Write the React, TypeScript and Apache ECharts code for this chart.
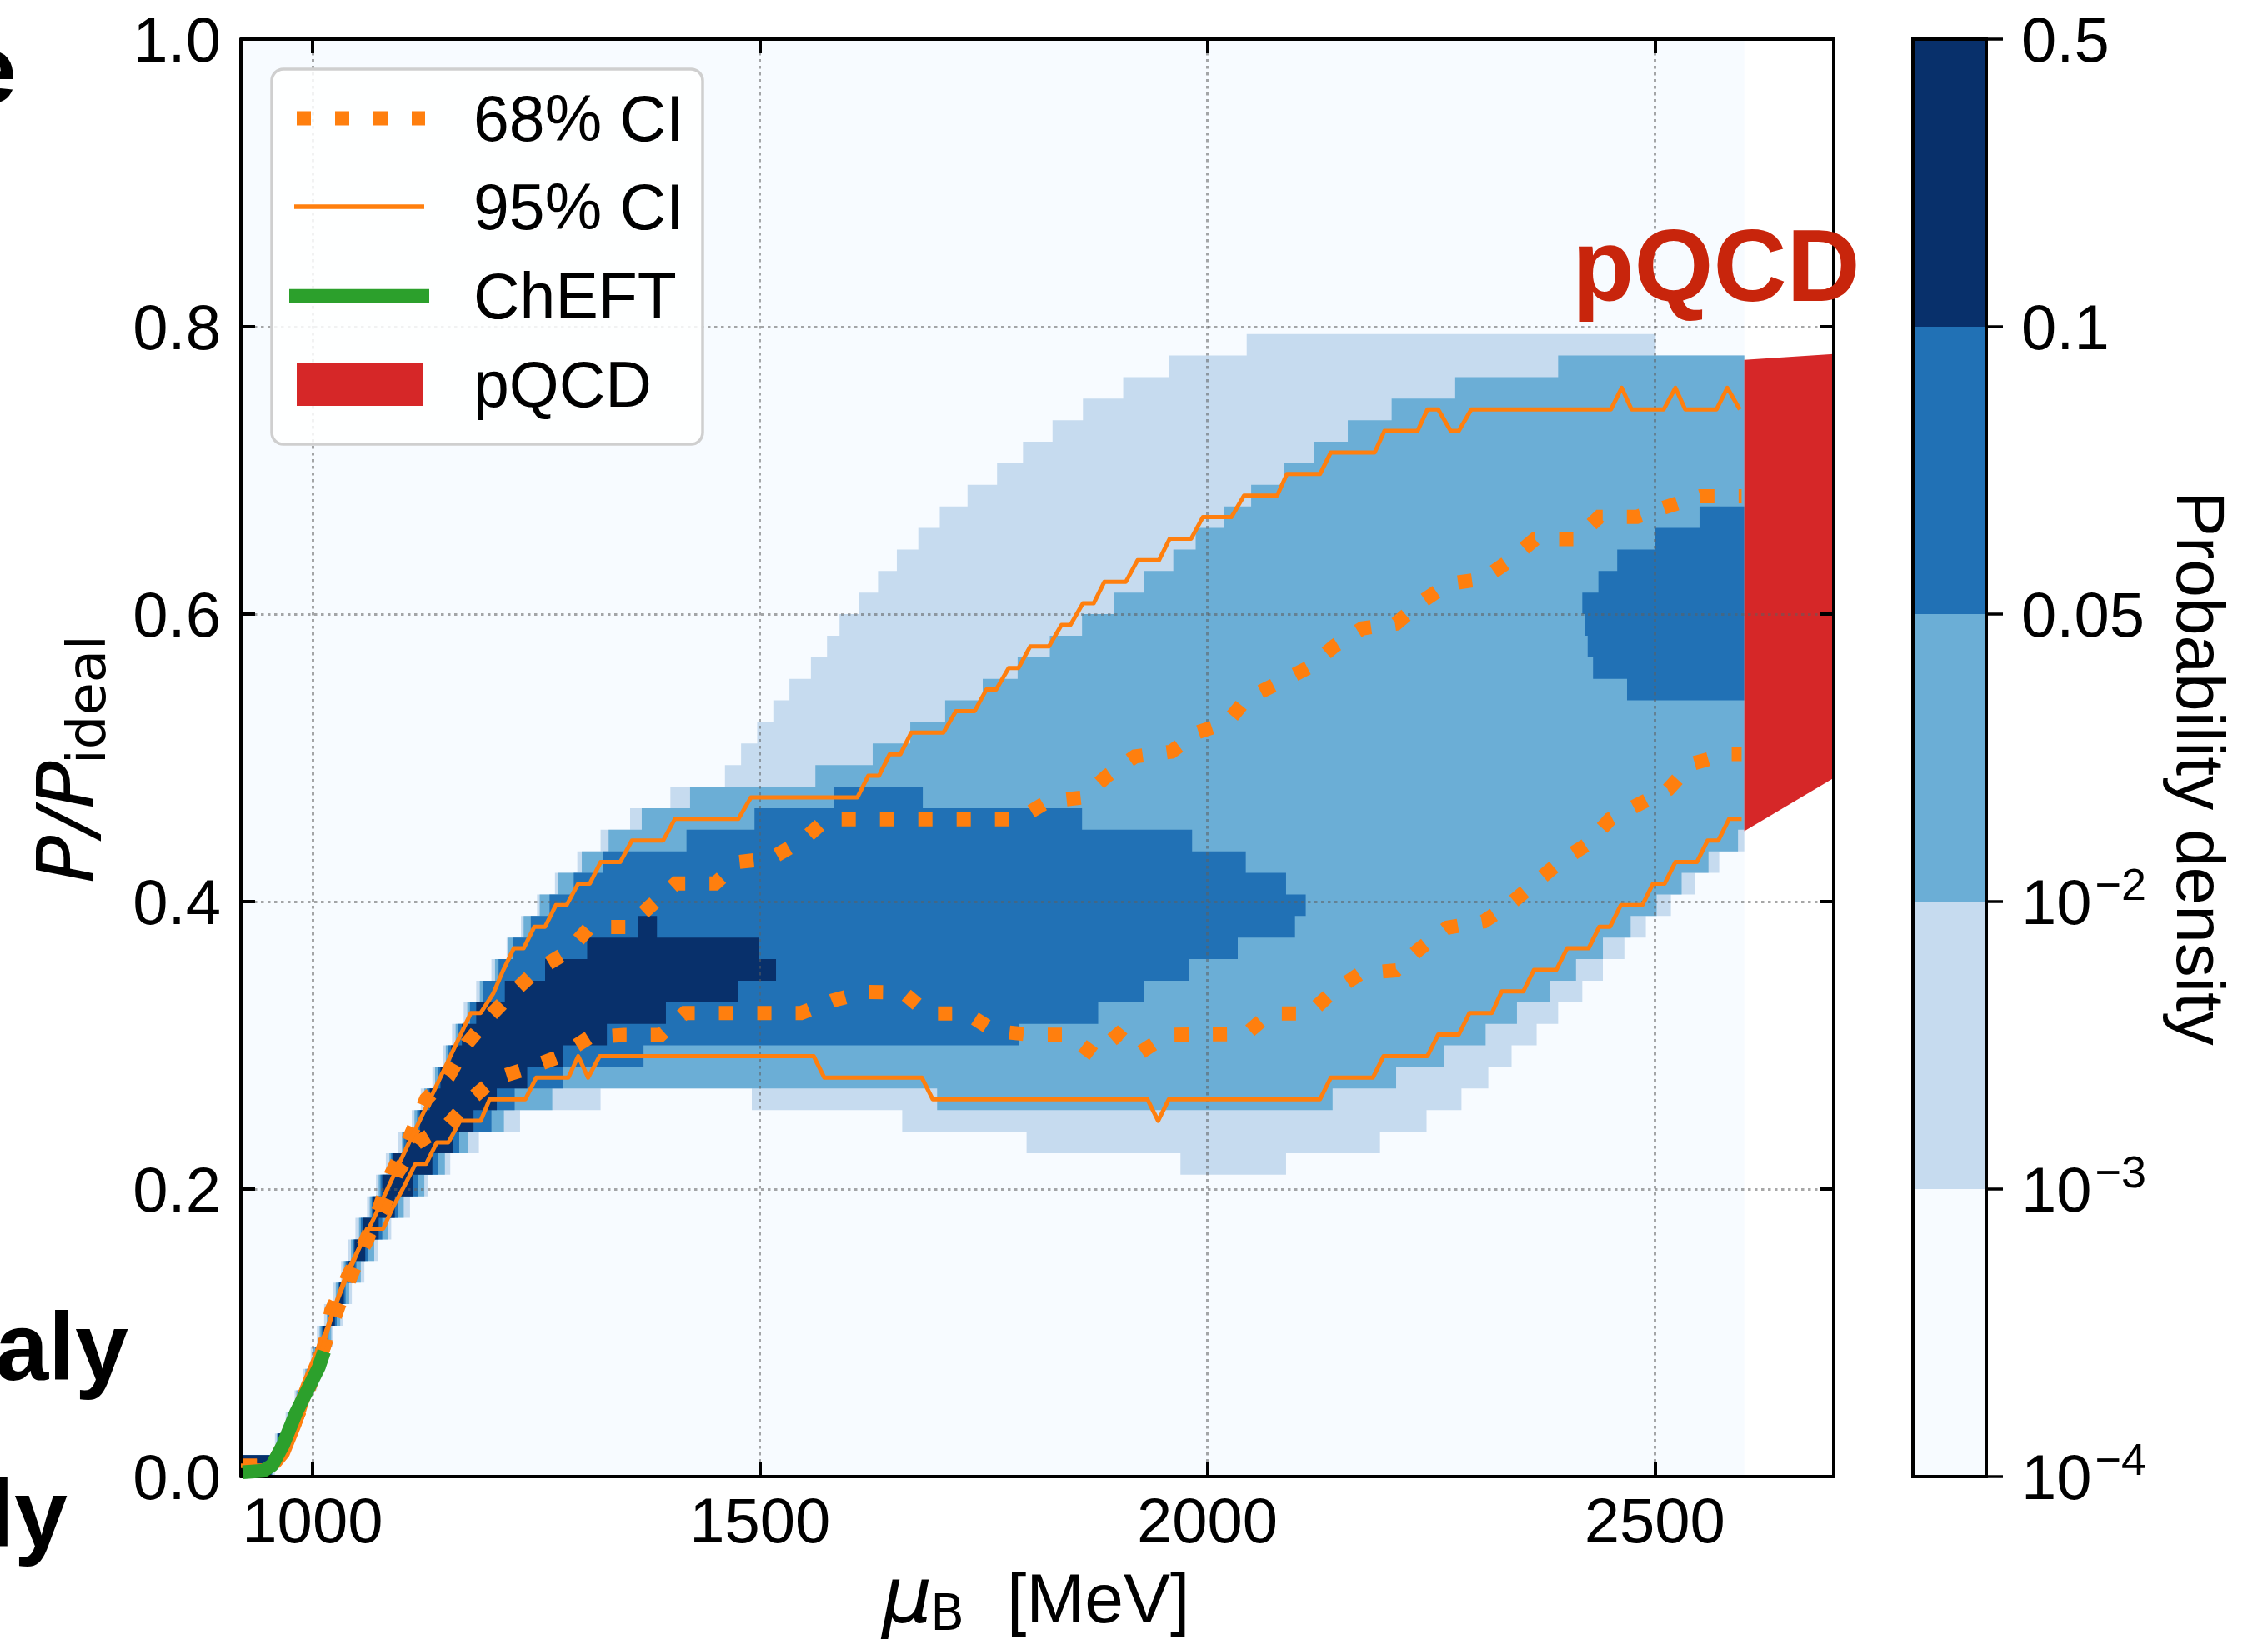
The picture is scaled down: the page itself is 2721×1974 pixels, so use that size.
import React, { useEffect, useRef } from 'react';
import * as echarts from 'echarts';

// ---------------- axis ranges ----------------
const X_MIN = 920;
const X_MAX = 2700;
const HEAT_X0 = 920;
const HEAT_X1 = 2600;

// discrete colour levels (Blues) and colour-bar tick labels
const levelColors = ['#f7fbff', '#c6dbef', '#6baed6', '#2171b5', '#08306b'];
const cbTickLabels = ['1e-4', '1e-3', '1e-2', '0.05', '0.1', '0.5'];

// ---------------- density levels: step edges [mu_start, P/P_ideal] ----------------
const bgUpper = [[HEAT_X0, 1.0]];
const bgLower = [[HEAT_X0, 0.0]];

// level >= 1e-3
const levelAUpper = [
  [920, 0.015], [958, 0.03], [970, 0.045], [980, 0.06], [989, 0.075], [998, 0.09], [1005, 0.105],
  [1013, 0.12], [1023, 0.135], [1032, 0.15], [1040, 0.165], [1048, 0.18], [1061, 0.195], [1071, 0.21],
  [1082, 0.225], [1096, 0.24], [1111, 0.255], [1121, 0.27], [1134, 0.285], [1146, 0.3], [1156, 0.315],
  [1169, 0.33], [1183, 0.345], [1200, 0.36], [1217, 0.375], [1233, 0.39], [1251, 0.405], [1271, 0.42],
  [1296, 0.435], [1322, 0.45], [1355, 0.465], [1400, 0.48], [1461, 0.495], [1479, 0.51], [1497, 0.525],
  [1515, 0.54], [1533, 0.555], [1557, 0.57], [1575, 0.585], [1589, 0.6], [1611, 0.615], [1632, 0.63],
  [1653, 0.645], [1677, 0.66], [1701, 0.675], [1732, 0.69], [1765, 0.705], [1794, 0.72], [1827, 0.735],
  [1861, 0.75], [1906, 0.765], [1957, 0.78], [2044, 0.795], [2501, 0.78],
];
const levelALower = [
  [920, 0], [958, 0.015], [972, 0.03], [983, 0.045], [993, 0.06], [1005, 0.075], [1015, 0.09],
  [1023, 0.105], [1034, 0.12], [1044, 0.135], [1058, 0.15], [1073, 0.165], [1088, 0.18], [1109, 0.195],
  [1129, 0.21], [1154, 0.225], [1186, 0.24], [1232, 0.255], [1322, 0.27], [1491, 0.255], [1659, 0.24],
  [1798, 0.225], [1970, 0.21], [2088, 0.225], [2193, 0.24], [2245, 0.255], [2284, 0.27], [2314, 0.285],
  [2340, 0.3], [2368, 0.315], [2392, 0.33], [2419, 0.345], [2442, 0.36], [2466, 0.375], [2490, 0.39],
  [2518, 0.405], [2545, 0.42], [2572, 0.435],
];

// level >= 1e-2
const levelBUpper = [
  [920, 0.015], [960, 0.03], [972, 0.045], [982, 0.06], [992, 0.075], [1001, 0.09], [1008, 0.105],
  [1016, 0.12], [1026, 0.135], [1035, 0.15], [1043, 0.165], [1052, 0.18], [1064, 0.195], [1074, 0.21],
  [1086, 0.225], [1100, 0.24], [1114, 0.255], [1125, 0.27], [1137, 0.285], [1149, 0.3], [1160, 0.315],
  [1173, 0.33], [1187, 0.345], [1204, 0.36], [1219, 0.375], [1236, 0.39], [1254, 0.405], [1274, 0.42],
  [1301, 0.435], [1331, 0.45], [1368, 0.465], [1422, 0.48], [1562, 0.495], [1626, 0.51], [1668, 0.525],
  [1707, 0.54], [1749, 0.555], [1788, 0.57], [1824, 0.585], [1860, 0.6], [1896, 0.615], [1929, 0.63],
  [1962, 0.645], [1987, 0.66], [2019, 0.675], [2049, 0.69], [2086, 0.705], [2119, 0.72], [2157, 0.735],
  [2206, 0.75], [2277, 0.765], [2392, 0.78],
];
const levelBLower = [
  [920, 0], [956, 0.015], [968, 0.03], [979, 0.045], [990, 0.06], [1002, 0.075], [1013, 0.09],
  [1021, 0.105], [1031, 0.12], [1041, 0.135], [1054, 0.15], [1069, 0.165], [1084, 0.18], [1102, 0.195],
  [1125, 0.21], [1148, 0.225], [1174, 0.24], [1214, 0.255], [1268, 0.27], [1698, 0.255], [2140, 0.27],
  [2211, 0.285], [2265, 0.3], [2311, 0.315], [2346, 0.33], [2383, 0.345], [2412, 0.36], [2442, 0.375],
  [2473, 0.39], [2502, 0.405], [2530, 0.42], [2560, 0.435], [2593, 0.45],
];

// level >= 0.05 (main band)
const levelCUpper = [
  [920, 0.015], [961, 0.03], [973, 0.045], [984, 0.06], [994, 0.075], [1003, 0.09], [1010, 0.105],
  [1018, 0.12], [1028, 0.135], [1037, 0.15], [1045, 0.165], [1054, 0.18], [1066, 0.195], [1076, 0.21],
  [1088, 0.225], [1102, 0.24], [1117, 0.255], [1128, 0.27], [1140, 0.285], [1152, 0.3], [1163, 0.315],
  [1176, 0.33], [1191, 0.345], [1208, 0.36], [1224, 0.375], [1244, 0.39], [1265, 0.405], [1292, 0.42],
  [1325, 0.435], [1418, 0.45], [1494, 0.465], [1583, 0.48], [1682, 0.465], [1860, 0.45], [1983, 0.435],
  [2043, 0.42], [2088, 0.405],
];
const levelCLower = [
  [920, 0], [954, 0.015], [966, 0.03], [977, 0.045], [987, 0.06], [999, 0.075], [1010, 0.09],
  [1018, 0.105], [1027, 0.12], [1037, 0.135], [1049, 0.15], [1062, 0.165], [1078, 0.18], [1096, 0.195],
  [1118, 0.21], [1140, 0.225], [1164, 0.24], [1200, 0.255], [1226, 0.27], [1280, 0.285], [1370, 0.3],
  [1790, 0.315], [1878, 0.33], [1929, 0.345], [1980, 0.36], [2034, 0.375], [2098, 0.39],
];
const levelCEnd = 2110;

// level >= 0.05 (island near pQCD)
const levelC2Upper = [[2419, 0.615], [2437, 0.63], [2458, 0.645], [2500, 0.66], [2550, 0.675]];
const levelC2Lower = [[2419, 0.6], [2422, 0.585], [2425, 0.57], [2431, 0.555], [2469, 0.54]];

// level >= 0.1
const levelDUpper = [
  [920, 0.015], [962, 0.03], [974, 0.045], [985, 0.06], [995, 0.075], [1004, 0.09], [1012, 0.105],
  [1020, 0.12], [1030, 0.135], [1039, 0.15], [1047, 0.165], [1056, 0.18], [1068, 0.195], [1078, 0.21],
  [1090, 0.225], [1105, 0.24], [1120, 0.255], [1131, 0.27], [1143, 0.285], [1155, 0.3], [1167, 0.315],
  [1183, 0.33], [1215, 0.345], [1260, 0.36], [1307, 0.375], [1364, 0.39], [1385, 0.375], [1499, 0.36],
];
const levelDLower = [
  [920, 0], [954, 0.015], [966, 0.03], [977, 0.045], [987, 0.06], [999, 0.075], [1010, 0.09],
  [1016, 0.105], [1025, 0.12], [1035, 0.135], [1047, 0.15], [1059, 0.165], [1074, 0.18], [1092, 0.195],
  [1112, 0.21], [1134, 0.225], [1157, 0.24], [1180, 0.255], [1206, 0.27], [1240, 0.285], [1280, 0.3],
  [1329, 0.315], [1395, 0.33], [1476, 0.345],
];
const levelDEnd = 1518;

// ---------------- credible-interval lines ----------------
const ci95Upper = [
  [920, 0.0075], [952, 0.0075], [962, 0.02], [975, 0.04], [990, 0.065], [1002.5, 0.0836], [1015, 0.1009],
  [1038, 0.1413], [1069, 0.1802], [1104.5, 0.2279], [1138, 0.2712], [1177, 0.3225], [1188, 0.3225],
  [1202, 0.336], [1213, 0.352], [1225, 0.3675], [1236, 0.3675], [1248, 0.3825], [1260, 0.3825],
  [1272, 0.3975], [1284, 0.3975], [1297, 0.4125], [1310, 0.4125], [1322, 0.4275], [1344, 0.4275],
  [1357, 0.4425], [1392, 0.4425], [1405, 0.4575], [1476, 0.4575], [1490, 0.4725], [1609, 0.4725],
  [1621, 0.4875], [1633, 0.4875], [1645, 0.5025], [1657, 0.5025], [1669, 0.5175], [1705, 0.5175],
  [1719, 0.5325], [1740, 0.5325], [1753, 0.5475], [1764, 0.5475], [1778, 0.5625], [1789, 0.5625],
  [1802, 0.5775], [1823, 0.5775], [1837, 0.5925], [1847, 0.5925], [1861, 0.6075], [1873, 0.6075],
  [1885, 0.6225], [1909, 0.6225], [1922, 0.6375], [1946, 0.6375], [1958, 0.6525], [1982, 0.6525],
  [1995, 0.6675], [2027, 0.6675], [2041, 0.6825], [2078, 0.6825], [2089, 0.6975], [2126, 0.6975],
  [2138, 0.7125], [2187, 0.7125], [2198, 0.7275], [2235, 0.7275], [2246, 0.7425], [2258, 0.7425],
  [2272, 0.7275], [2281, 0.7275], [2295, 0.7425], [2451, 0.7425], [2463, 0.7575], [2474, 0.7425],
  [2510, 0.7425], [2523, 0.7575], [2534, 0.7425], [2569, 0.7425], [2581, 0.7575], [2595, 0.7425],
];
const ci95Lower = [
  [920, 0.0075], [962, 0.0075], [972, 0.015], [985, 0.035], [998, 0.06], [1011, 0.089], [1023, 0.115],
  [1036, 0.1355], [1050, 0.1557], [1061, 0.1725], [1079, 0.1725], [1090, 0.1875], [1103, 0.2025],
  [1115, 0.2175], [1127, 0.2175], [1139, 0.2325], [1152, 0.2325], [1165, 0.2475], [1188, 0.2475],
  [1198, 0.2625], [1238, 0.2625], [1250, 0.2775], [1286, 0.2775], [1297, 0.2925], [1308, 0.2775],
  [1321, 0.2925], [1560, 0.2925], [1572, 0.2775], [1681, 0.2775], [1693, 0.2625], [1933, 0.2625],
  [1945, 0.2475], [1957, 0.2625], [2126, 0.2625], [2138, 0.2775], [2185, 0.2775], [2197, 0.2925],
  [2246, 0.2925], [2258, 0.3075], [2281, 0.3075], [2293, 0.3225], [2318, 0.3225], [2329, 0.3375],
  [2353, 0.3375], [2365, 0.3525], [2390, 0.3525], [2402, 0.3675], [2426, 0.3675], [2438, 0.3825],
  [2450, 0.3825], [2462, 0.3975], [2486, 0.3975], [2498, 0.4125], [2511, 0.4125], [2523, 0.4275],
  [2547, 0.4275], [2559, 0.4425], [2571, 0.4425], [2583, 0.4575], [2597, 0.4575],
];
const ci68Upper = [
  [922, 0.0075], [955, 0.0075], [975, 0.03], [995, 0.06], [1013, 0.0908], [1021, 0.1153], [1040, 0.1398],
  [1061, 0.1644], [1075, 0.1875], [1088, 0.2106], [1109, 0.2365], [1127, 0.2625], [1152, 0.2784],
  [1173, 0.3015], [1198, 0.3202], [1223, 0.3361], [1250, 0.352], [1285, 0.365], [1310, 0.3823],
  [1352, 0.3823], [1379, 0.3976], [1406, 0.4126], [1450, 0.4126], [1477, 0.4276], [1512, 0.4299],
  [1548, 0.4428], [1574, 0.4572], [1788, 0.4572], [1822, 0.4698], [1862, 0.4725], [1888, 0.4875],
  [1919, 0.5009], [1960, 0.5043], [1988, 0.5175], [2022, 0.5245], [2044, 0.5412], [2080, 0.5523],
  [2115, 0.5634], [2142, 0.5778], [2173, 0.59], [2211, 0.5934], [2238, 0.6078], [2269, 0.6211],
  [2308, 0.6244], [2339, 0.6377], [2366, 0.6522], [2412, 0.6522], [2438, 0.6677], [2480, 0.6677],
  [2517, 0.6755], [2551, 0.6821], [2597, 0.6821],
];
const ci68Lower = [
  [922, 0.0075], [955, 0.0075], [975, 0.03], [995, 0.06], [1013, 0.0908], [1030, 0.12], [1050, 0.15],
  [1065, 0.1725], [1079.5, 0.1875], [1094, 0.2106], [1117, 0.2322], [1152, 0.2452], [1177, 0.2625],
  [1204, 0.277], [1242, 0.2842], [1275, 0.292], [1310, 0.3058], [1348, 0.3072], [1389, 0.3072],
  [1416, 0.3225], [1546, 0.3225], [1581, 0.3311], [1617, 0.3371], [1660, 0.3367], [1688, 0.3222],
  [1731, 0.3222], [1762, 0.31], [1802, 0.3074], [1844, 0.3074], [1874, 0.2934], [1900, 0.3074],
  [1924, 0.2945], [1956, 0.3074], [2043, 0.3078], [2070, 0.3222], [2114, 0.3222], [2140, 0.3371],
  [2171, 0.35], [2211, 0.3522], [2237, 0.367], [2268, 0.3818], [2309, 0.3862], [2338, 0.3981],
  [2366, 0.4129], [2394, 0.4277], [2425, 0.4401], [2450, 0.4573], [2482, 0.4677], [2515, 0.478],
  [2541, 0.4958], [2580, 0.5026], [2597, 0.5026],
];
const chEFT = [
  [922, 0.003], [945, 0.004], [955, 0.008], [967, 0.022], [982, 0.045], [995, 0.061], [1007, 0.076], [1013, 0.087],
];

// pQCD band
const pqcdMu = [2600, 2700];
const pqcdUpper = [0.777, 0.781];
const pqcdLower = [0.449, 0.486];

// ---------------- helpers ----------------
function stepPolygon(upper: number[][], lower: number[][], x1: number) {
  const pts: number[][] = [];
  for (let i = 0; i < upper.length; i++) {
    const xn = i + 1 < upper.length ? upper[i + 1][0] : x1;
    pts.push([upper[i][0], upper[i][1]], [xn, upper[i][1]]);
  }
  for (let i = lower.length - 1; i >= 0; i--) {
    const xn = i + 1 < lower.length ? lower[i + 1][0] : x1;
    pts.push([xn, lower[i][1]], [lower[i][0], lower[i][1]]);
  }
  return pts;
}

const regions = [
  { level: 0, upper: bgUpper, lower: bgLower, x1: HEAT_X1 },
  { level: 1, upper: levelAUpper, lower: levelALower, x1: HEAT_X1 },
  { level: 2, upper: levelBUpper, lower: levelBLower, x1: HEAT_X1 },
  { level: 3, upper: levelCUpper, lower: levelCLower, x1: levelCEnd },
  { level: 3, upper: levelC2Upper, lower: levelC2Lower, x1: HEAT_X1 },
  { level: 4, upper: levelDUpper, lower: levelDLower, x1: levelDEnd },
];

const SANS = '"Liberation Sans", Arial, sans-serif';
const DEJAVU = '"DejaVu Sans", sans-serif';
const ORANGE = '#ff7f0e';
const GREEN = '#2ca02c';
const RED = '#d62728';
const GRID_LINE = { color: 'rgba(95,95,95,0.55)', width: 3, type: [3.5, 4.5] as any };

export default function App() {
  const ref = useRef<HTMLDivElement>(null);

  useEffect(() => {
    if (!ref.current) return;
    const chart = echarts.init(ref.current, null, { renderer: 'svg' });

    const lineSeries = (name: string, data: number[][], style: any) => ({
      type: 'line',
      name,
      data,
      xAxisIndex: 0,
      yAxisIndex: 0,
      symbol: 'none',
      showSymbol: false,
      z: 4,
      clip: true,
      silent: true,
      lineStyle: style,
    });

    const option: any = {
      animation: false,
      backgroundColor: '#ffffff',
      grid: [
        { left: 289, top: 47, width: 1911, height: 1725, outerBoundsMode: 'none', containLabel: false },
        { left: 2295, top: 47, width: 88, height: 1725, outerBoundsMode: 'none', containLabel: false },
      ],
      xAxis: [
        {
          type: 'value', gridIndex: 0, position: 'bottom', min: X_MIN, max: X_MAX,
          minInterval: 500, maxInterval: 500, splitNumber: 4, z: 3,
          axisLine: { show: true, onZero: false, lineStyle: { color: '#000', width: 4 } },
          axisTick: { show: true, inside: true, length: 17, lineStyle: { color: '#000', width: 4 } },
          axisLabel: {
            show: true, color: '#000', fontSize: 76, fontFamily: SANS, margin: 14,
            showMinLabel: false, showMaxLabel: false,
            formatter: (v: number) => String(Math.round(v)),
          },
          splitLine: { show: true, lineStyle: GRID_LINE },
        },
        {
          type: 'value', gridIndex: 0, position: 'top', min: X_MIN, max: X_MAX,
          minInterval: 500, maxInterval: 500, splitNumber: 4, z: 3,
          axisLine: { show: true, onZero: false, lineStyle: { color: '#000', width: 4 } },
          axisTick: { show: true, inside: true, length: 17, lineStyle: { color: '#000', width: 4 } },
          axisLabel: { show: false },
          splitLine: { show: false },
        },
        { type: 'value', gridIndex: 1, min: 0, max: 1, show: false },
      ],
      yAxis: [
        {
          type: 'value', gridIndex: 0, position: 'left', min: 0, max: 1, interval: 0.2, z: 3,
          axisLine: { show: true, onZero: false, lineStyle: { color: '#000', width: 4 } },
          axisTick: { show: true, inside: true, length: 17, lineStyle: { color: '#000', width: 4 } },
          axisLabel: {
            show: true, color: '#000', fontSize: 76, fontFamily: SANS, margin: 24,
            formatter: (v: number) => v.toFixed(1),
          },
          splitLine: { show: true, lineStyle: GRID_LINE },
        },
        {
          type: 'value', gridIndex: 0, position: 'right', min: 0, max: 1, interval: 0.2, z: 3,
          axisLine: { show: true, onZero: false, lineStyle: { color: '#000', width: 4 } },
          axisTick: { show: true, inside: true, length: 17, lineStyle: { color: '#000', width: 4 } },
          axisLabel: { show: false },
          splitLine: { show: false },
        },
        {
          type: 'value', gridIndex: 1, position: 'right', min: 0, max: 5, interval: 1, z: 3,
          axisLine: { show: true, onZero: false, lineStyle: { color: '#000', width: 4 } },
          axisTick: { show: true, inside: false, length: 20, lineStyle: { color: '#000', width: 3.5 } },
          axisLabel: {
            show: true, color: '#000', fontSize: 76, fontFamily: SANS, margin: 42, lineHeight: 96,
            formatter: (v: number) => {
              const s = cbTickLabels[Math.round(v)];
              if (s.startsWith('1e')) return '10{sup|\u2212' + s.slice(3) + '}';
              return s;
            },
            rich: {
              sup: { fontSize: 54, lineHeight: 54, fontFamily: SANS, color: '#000', verticalAlign: 'top', padding: [0, 0, 0, 4] },
            },
          },
          splitLine: { show: false },
        },
      ],
      series: [
        {
          type: 'custom',
          name: 'density',
          xAxisIndex: 0,
          yAxisIndex: 0,
          z: 1,
          silent: true,
          data: regions.map((r, i) => [r.upper[0][0], i]),
          renderItem: (params: any, api: any) => {
            const r = regions[params.dataIndex];
            const pts = stepPolygon(r.upper, r.lower, r.x1).map((p) => api.coord(p));
            return { type: 'polygon', shape: { points: pts }, style: { fill: levelColors[r.level] } };
          },
        },
        {
          type: 'custom',
          name: 'pQCD band',
          xAxisIndex: 0,
          yAxisIndex: 0,
          z: 1,
          silent: true,
          data: [[pqcdMu[0], pqcdUpper[0]]],
          renderItem: (params: any, api: any) => {
            const pts = [
              api.coord([pqcdMu[0], pqcdUpper[0]]),
              api.coord([pqcdMu[1], pqcdUpper[1]]),
              api.coord([pqcdMu[1], pqcdLower[1]]),
              api.coord([pqcdMu[0], pqcdLower[0]]),
            ];
            return { type: 'polygon', shape: { points: pts }, style: { fill: RED } };
          },
        },
        lineSeries('68% CI upper', ci68Upper, { color: ORANGE, width: 17, type: [17, 29], cap: 'butt', join: 'miter' }),
        lineSeries('68% CI lower', ci68Lower, { color: ORANGE, width: 17, type: [17, 29], cap: 'butt', join: 'miter' }),
        lineSeries('95% CI upper', ci95Upper, { color: ORANGE, width: 5, type: 'solid', join: 'round' }),
        lineSeries('95% CI lower', ci95Lower, { color: ORANGE, width: 5, type: 'solid', join: 'round' }),
        lineSeries('ChEFT', chEFT, { color: GREEN, width: 16.5, type: 'solid', join: 'round' }),
        {
          type: 'custom',
          name: 'colorbar',
          xAxisIndex: 2,
          yAxisIndex: 2,
          z: 2,
          silent: true,
          data: [0, 1, 2, 3, 4, 5].map((i) => [0, i]),
          renderItem: (params: any, api: any) => {
            const i = params.dataIndex;
            if (i < 5) {
              const tl = api.coord([0, i + 1]);
              const br = api.coord([1, i]);
              return {
                type: 'rect',
                shape: { x: tl[0], y: tl[1], width: br[0] - tl[0], height: br[1] - tl[1] },
                style: { fill: levelColors[i] },
              };
            }
            const tl = api.coord([0, 5]);
            const br = api.coord([1, 0]);
            return {
              type: 'rect',
              z2: 10,
              shape: { x: tl[0], y: tl[1], width: br[0] - tl[0], height: br[1] - tl[1] },
              style: { fill: 'none', stroke: '#000', lineWidth: 4 },
            };
          },
        },
      ],
      graphic: [
        // legend
        {
          type: 'rect', z: 20,
          shape: { x: 326, y: 83, width: 517, height: 450, r: 14 },
          style: { fill: 'rgba(255,255,255,0.85)', stroke: '#cfcfcf', lineWidth: 3.5 },
        },
        { type: 'line', z: 21, shape: { x1: 356, y1: 142, x2: 510, y2: 142 }, style: { stroke: ORANGE, lineWidth: 17, lineDash: [17, 29] } },
        { type: 'line', z: 21, shape: { x1: 353, y1: 248, x2: 509, y2: 248 }, style: { stroke: ORANGE, lineWidth: 5.5 } },
        { type: 'line', z: 21, shape: { x1: 347, y1: 355, x2: 515, y2: 355 }, style: { stroke: GREEN, lineWidth: 16.5 } },
        { type: 'rect', z: 21, shape: { x: 356, y: 435, width: 151, height: 52 }, style: { fill: RED } },
        { type: 'text', z: 21, x: 568, y: 142, style: { text: '68% CI', fontSize: 77, fontFamily: SANS, fill: '#000', align: 'left', verticalAlign: 'middle' } },
        { type: 'text', z: 21, x: 568, y: 248, style: { text: '95% CI', fontSize: 77, fontFamily: SANS, fill: '#000', align: 'left', verticalAlign: 'middle' } },
        { type: 'text', z: 21, x: 568, y: 355, style: { text: 'ChEFT', fontSize: 77, fontFamily: SANS, fill: '#000', align: 'left', verticalAlign: 'middle' } },
        { type: 'text', z: 21, x: 568, y: 461, style: { text: 'pQCD', fontSize: 77, fontFamily: SANS, fill: '#000', align: 'left', verticalAlign: 'middle' } },
        // pQCD annotation
        { type: 'text', z: 21, x: 1886, y: 319, style: { text: 'pQCD', fontSize: 122, fontWeight: 'bold', fontFamily: SANS, fill: '#c8250c', align: 'left', verticalAlign: 'middle' } },
        // x-axis title
        { type: 'text', z: 21, x: 1058, y: 1914, style: { text: '\u03bc', fontSize: 95, fontStyle: 'italic', fontFamily: DEJAVU, fill: '#000', align: 'left', verticalAlign: 'middle' } },
        { type: 'text', z: 21, x: 1116, y: 1935, style: { text: 'B', fontSize: 60, fontFamily: DEJAVU, fill: '#000', align: 'left', verticalAlign: 'middle' } },
        { type: 'text', z: 21, x: 1208, y: 1918, style: { text: '[MeV]', fontSize: 84, fontFamily: SANS, fill: '#000', align: 'left', verticalAlign: 'middle' } },
        // y-axis title
        { type: 'text', z: 21, x: 79, y: 1060, rotation: Math.PI / 2, style: { text: 'P/P', fontSize: 95, fontStyle: 'italic', fontFamily: DEJAVU, fill: '#000', align: 'left', verticalAlign: 'middle' } },
        { type: 'text', z: 21, x: 104, y: 917, rotation: Math.PI / 2, style: { text: 'ideal', fontSize: 64, fontFamily: DEJAVU, fill: '#000', align: 'left', verticalAlign: 'middle' } },
        // colour-bar title
        { type: 'text', z: 21, x: 2640, y: 922, rotation: -Math.PI / 2, style: { text: 'Probability density', fontSize: 82, fontFamily: SANS, fill: '#000', align: 'center', verticalAlign: 'middle' } },
        // cropped neighbouring text on the left edge
        { type: 'text', z: 21, x: 20, y: 83, style: { text: 'e', fontSize: 115, fontWeight: 'bold', fontFamily: SANS, fill: '#000', align: 'right', verticalAlign: 'middle' } },
        { type: 'text', z: 21, x: 154, y: 1616, style: { text: 'aly', fontSize: 115, fontWeight: 'bold', fontFamily: SANS, fill: '#000', align: 'right', verticalAlign: 'middle' } },
        { type: 'text', z: 21, x: 81, y: 1816, style: { text: 'ly', fontSize: 115, fontWeight: 'bold', fontFamily: SANS, fill: '#000', align: 'right', verticalAlign: 'middle' } },
      ],
    };

    chart.setOption(option);
    return () => chart.dispose();
  }, []);

  return (
    <div
      ref={ref}
      style={{ position: 'fixed', left: 0, top: 0, width: 2721, height: 1974, background: '#ffffff' }}
    />
  );
}
